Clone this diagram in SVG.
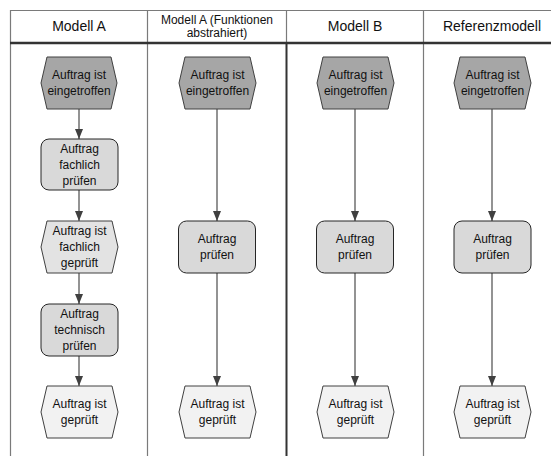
<svg xmlns="http://www.w3.org/2000/svg" width="551" height="456" viewBox="0 0 551 456">
  <style>
    .hd { font-family: "Liberation Sans", Arial, sans-serif; font-size: 14px; fill: #111; text-anchor: middle; }
    .hd2 { font-family: "Liberation Sans", Arial, sans-serif; font-size: 12px; fill: #111; text-anchor: middle; }
    .t { font-family: "Liberation Sans", Arial, sans-serif; font-size: 12px; fill: #111; text-anchor: middle; }
    .thin { stroke: #7a7a7a; stroke-width: 1.2; fill: none; }
    .ev1 { fill: #a6a6a6; stroke: #404040; stroke-width: 1; }
    .ev2 { fill: #e3e3e3; stroke: #404040; stroke-width: 1; }
    .ev3 { fill: #f2f2f2; stroke: #404040; stroke-width: 1; }
    .fn { fill: #d9d9d9; stroke: #262626; stroke-width: 1; }
    .cn { stroke: #595959; stroke-width: 1.3; fill: none; marker-end: url(#arr); }
  </style>
  <defs>
    <marker id="arr" markerUnits="userSpaceOnUse" markerWidth="10" markerHeight="8" refX="10" refY="4" orient="auto">
      <path d="M0,0 L10,4 L0,8 z" fill="#404040"/>
    </marker>
  </defs>
  <rect width="551" height="456" fill="#ffffff"/>

  <g id="lanes">
    <line class="thin" x1="10" y1="10.5" x2="551" y2="10.5"/>
    <line class="thin" x1="10.5" y1="10" x2="10.5" y2="456"/>
    <line class="thin" x1="147.5" y1="10" x2="147.5" y2="456"/>
    <line class="thin" x1="286.5" y1="10" x2="286.5" y2="43"/>
    <line x1="286.5" y1="43" x2="286.5" y2="456" stroke="#333333" stroke-width="2"/>
    <line class="thin" x1="423.5" y1="10" x2="423.5" y2="456"/>
    <line x1="10" y1="43" x2="551" y2="43" stroke="#333333" stroke-width="2.5"/>
    <text class="hd" x="79" y="31">Modell A</text>
    <text class="hd2" x="217" y="23.5">Modell A (Funktionen</text>
    <text class="hd2" x="217" y="36.5">abstrahiert)</text>
    <text class="hd" x="355" y="31">Modell B</text>
    <text class="hd" x="492" y="31">Referenzmodell</text>
  </g>

  <g id="connectors">
    <line class="cn" x1="79" y1="109" x2="79" y2="139"/>
    <line class="cn" x1="79" y1="190" x2="79" y2="221"/>
    <line class="cn" x1="79" y1="273" x2="79" y2="304"/>
    <line class="cn" x1="79" y1="356" x2="79" y2="386"/>
    <line class="cn" x1="217" y1="109" x2="217" y2="221"/>
    <line class="cn" x1="217" y1="273" x2="217" y2="386"/>
    <line class="cn" x1="355" y1="109" x2="355" y2="221"/>
    <line class="cn" x1="355" y1="273" x2="355" y2="386"/>
    <line class="cn" x1="492" y1="109" x2="492" y2="221"/>
    <line class="cn" x1="492" y1="273" x2="492" y2="386"/>
  </g>

  <!-- Lane 1: Modell A -->
  <g id="a-eingetroffen">
    <polygon class="ev1" points="47,57 111,57 117,83 111,109 47,109 41,83"/>
    <text class="t" x="79" y="79.2">Auftrag ist</text>
    <text class="t" x="79" y="95.2">eingetroffen</text>
  </g>
  <g id="a-fachlich-pruefen">
    <rect class="fn" x="41" y="139" width="77" height="51" rx="8"/>
    <text class="t" x="79.5" y="152.7">Auftrag</text>
    <text class="t" x="79.5" y="168.7">fachlich</text>
    <text class="t" x="79.5" y="184.7">prüfen</text>
  </g>
  <g id="a-fachlich-geprueft">
    <polygon class="ev2" points="47,221 112,221 118,247 112,273 47,273 41,247"/>
    <text class="t" x="79.5" y="235.2">Auftrag ist</text>
    <text class="t" x="79.5" y="251.2">fachlich</text>
    <text class="t" x="79.5" y="267.2">geprüft</text>
  </g>
  <g id="a-technisch-pruefen">
    <rect class="fn" x="41" y="304" width="77" height="52" rx="8"/>
    <text class="t" x="79.5" y="318.2">Auftrag</text>
    <text class="t" x="79.5" y="334.2">technisch</text>
    <text class="t" x="79.5" y="350.2">prüfen</text>
  </g>
  <g id="a-geprueft">
    <polygon class="ev3" points="47,386 112,386 118,412 112,438 47,438 41,412"/>
    <text class="t" x="79.5" y="408.2">Auftrag ist</text>
    <text class="t" x="79.5" y="424.2">geprüft</text>
  </g>

  <!-- Lane 2: Modell A (Funktionen abstrahiert) -->
  <g id="a2-eingetroffen">
    <polygon class="ev1" points="185,57 250,57 256,83 250,109 185,109 179,83"/>
    <text class="t" x="217.5" y="79.2">Auftrag ist</text>
    <text class="t" x="217.5" y="95.2">eingetroffen</text>
  </g>
  <g id="a2-pruefen">
    <rect class="fn" x="178.5" y="221" width="77" height="52" rx="8"/>
    <text class="t" x="217" y="243.2">Auftrag</text>
    <text class="t" x="217" y="259.2">prüfen</text>
  </g>
  <g id="a2-geprueft">
    <polygon class="ev3" points="185,386 250,386 256,412 250,438 185,438 179,412"/>
    <text class="t" x="217.5" y="408.2">Auftrag ist</text>
    <text class="t" x="217.5" y="424.2">geprüft</text>
  </g>

  <!-- Lane 3: Modell B -->
  <g id="b-eingetroffen">
    <polygon class="ev1" points="323,57 388,57 394,83 388,109 323,109 317,83"/>
    <text class="t" x="355.5" y="79.2">Auftrag ist</text>
    <text class="t" x="355.5" y="95.2">eingetroffen</text>
  </g>
  <g id="b-pruefen">
    <rect class="fn" x="316.5" y="221" width="77" height="52" rx="8"/>
    <text class="t" x="355" y="243.2">Auftrag</text>
    <text class="t" x="355" y="259.2">prüfen</text>
  </g>
  <g id="b-geprueft">
    <polygon class="ev3" points="323,386 388,386 394,412 388,438 323,438 317,412"/>
    <text class="t" x="355.5" y="408.2">Auftrag ist</text>
    <text class="t" x="355.5" y="424.2">geprüft</text>
  </g>

  <!-- Lane 4: Referenzmodell -->
  <g id="r-eingetroffen">
    <polygon class="ev1" points="460,57 525,57 531,83 525,109 460,109 454,83"/>
    <text class="t" x="492.5" y="79.2">Auftrag ist</text>
    <text class="t" x="492.5" y="95.2">eingetroffen</text>
  </g>
  <g id="r-pruefen">
    <rect class="fn" x="454" y="221" width="77" height="52" rx="8"/>
    <text class="t" x="492.5" y="243.2">Auftrag</text>
    <text class="t" x="492.5" y="259.2">prüfen</text>
  </g>
  <g id="r-geprueft">
    <polygon class="ev3" points="460,386 525,386 531,412 525,438 460,438 454,412"/>
    <text class="t" x="492.5" y="408.2">Auftrag ist</text>
    <text class="t" x="492.5" y="424.2">geprüft</text>
  </g>
</svg>
